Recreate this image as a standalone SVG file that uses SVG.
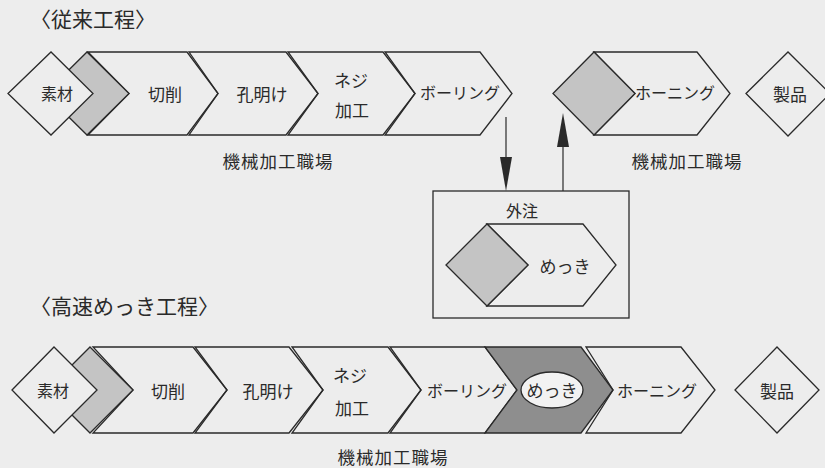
<svg xmlns="http://www.w3.org/2000/svg" width="825" height="468" viewBox="0 0 825 468">
<style>
.sh{fill:none;stroke:#2a2a2a;stroke-width:1.3;stroke-linejoin:miter}
.dm{fill:#ededed;stroke:#2a2a2a;stroke-width:1.3}
.lt{fill:#c4c4c4;stroke:#2a2a2a;stroke-width:1.3}
.dk{fill:#8e8e8e;stroke:#2a2a2a;stroke-width:1.3}
.t{font-family:"Noto Sans CJK JP","Noto Sans CJK SC",sans-serif;font-size:17px;fill:#2a2a2a;text-anchor:middle;dominant-baseline:central}
.lb{font-size:17.5px;letter-spacing:1px}
.ttl{font-family:"Noto Sans CJK JP","Noto Sans CJK SC",sans-serif;font-size:21px;fill:#2a2a2a}
.ln{stroke:#2a2a2a;stroke-width:1.2;fill:none}
</style>
<rect width="825" height="468" fill="#ededed"/>
<text class="ttl" x="30" y="27">〈従来工程〉</text>
<text class="ttl" x="30" y="314">〈高速めっき工程〉</text>

<g id="r1-setsusaku"><polygon class="sh" points="88,52 187,52 218,93.5 187,135 88,135 129,93.5"/><text class="t" x="165" y="93">切削</text></g>
<g id="r1-shaded"><polygon class="lt" points="87,52 129,93.5 87,135 45,93.5"/></g>
<g id="r1-sozai"><polygon class="dm" points="8,93.5 51,52 93,93.5 51,135"/><text class="t" x="57" y="93" style="font-size:16px">素材</text></g>
<g id="r1-anaake"><polygon class="sh" points="189,52 286,52 318,93.5 286,135 189,135 218,93.5"/><text class="t" x="262" y="93">孔明け</text></g>
<g id="r1-neji"><polygon class="sh" points="288,52 383,52 415,93.5 383,135 288,135 318,93.5"/><text class="t" x="351" y="79">ネジ</text><text class="t" x="352" y="109">加工</text></g>
<g id="r1-boring"><polygon class="sh" points="385,52 480,52 512,93.5 480,135 385,135 415,93.5"/><text class="t" x="460" y="92" style="font-size:16px">ボーリング</text></g>
<g id="r1-honing"><polygon class="sh" points="594,52 697,52 730,93.5 697,135 594,135 635,93.5"/><polygon class="lt" points="553,93.5 594,52 635,93.5 594,135"/><text class="t" x="675" y="92" style="font-size:16px">ホーニング</text></g>
<g id="r1-seihin"><polygon class="dm" points="746,93.5 788,52 830,93.5 788,136"/><text class="t" x="790" y="93">製品</text></g>
<text class="t lb" x="278" y="160">機械加工職場</text>
<text class="t lb" x="687" y="160">機械加工職場</text>

<g id="gaichu">
<rect x="433" y="191" width="196" height="127" fill="none" stroke="#2a2a2a" stroke-width="1.3"/>
<text class="t" x="522" y="210" style="font-size:16px">外注</text>
<polygon class="sh" points="487,224 583,224 616,265 583,306 487,306 528,265"/>
<polygon class="lt" points="446,265 487,224 528,265 487,306"/>
<text class="t" x="565" y="265">めっき</text>
</g>

<g id="connectors">
<line class="ln" x1="506" y1="117" x2="506" y2="158"/>
<polygon points="500,157 512,157 506,191" fill="#2a2a2a"/>
<line class="ln" x1="563" y1="191" x2="563" y2="146"/>
<polygon points="557,147 569,147 563,113" fill="#2a2a2a"/>
</g>

<g id="r2-setsusaku"><polygon class="sh" points="93,347 193,347 227,390 193,433 93,433 133,390"/><text class="t" x="168" y="390">切削</text></g>
<g id="r2-shaded"><polygon class="lt" points="90,347 133,390 90,433 47,390"/></g>
<g id="r2-sozai"><polygon class="dm" points="12,390 54,347 97,390 54,433"/><text class="t" x="53" y="390" style="font-size:16px">素材</text></g>
<g id="r2-anaake"><polygon class="sh" points="195,347 289,347 323,390 289,433 195,433 227,390"/><text class="t" x="268" y="390">孔明け</text></g>
<g id="r2-neji"><polygon class="sh" points="292,347 388,347 421,390 388,433 292,433 323,390"/><text class="t" x="350" y="374">ネジ</text><text class="t" x="352" y="407">加工</text></g>
<g id="r2-boring"><polygon class="sh" points="390,347 485,347 517,390 485,433 390,433 421,390"/><text class="t" x="467" y="390" style="font-size:16px">ボーリング</text></g>
<g id="r2-mekki"><polygon class="dk" points="485,347 581,347 613,390 581,433 485,433 517,390"/><ellipse cx="552" cy="390" rx="31" ry="18" fill="#f2f2f2" stroke="#2a2a2a" stroke-width="1.3"/><text class="t" x="552" y="389">めっき</text></g>
<g id="r2-honing"><polygon class="sh" points="586,347 681,347 715,390 681,433 586,433 613,390"/><text class="t" x="657" y="390" style="font-size:16px">ホーニング</text></g>
<g id="r2-seihin"><polygon class="dm" points="735,390 777,347 819,390 777,433"/><text class="t" x="777" y="390">製品</text></g>
<text class="t lb" x="393" y="456">機械加工職場</text>
</svg>
